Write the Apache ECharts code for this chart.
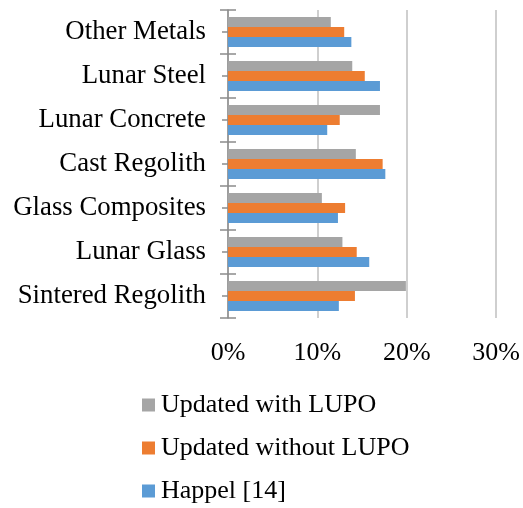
<!DOCTYPE html>
<html><head><meta charset="utf-8">
<script src="https://cdn.jsdelivr.net/npm/echarts@6/dist/echarts.min.js"></script>
<style>html,body{margin:0;padding:0;background:#fff}#c{width:523px;height:508px}</style>
</head><body><div id="c"></div>
<script>
const categories = ['Sintered Regolith','Lunar Glass','Glass Composites','Cast Regolith','Lunar Concrete','Lunar Steel','Other Metals'];
const happel = [12.4, 15.8, 12.3, 17.6, 11.1, 17.0, 13.8];
const withoutLupo = [14.2, 14.4, 13.1, 17.3, 12.5, 15.3, 13.0];
const withLupo = [19.9, 12.8, 10.5, 14.3, 17.0, 13.9, 11.5];
const xTicks = [0, 10, 20, 30];
const seriesNames = ['Updated with LUPO','Updated without LUPO','Happel [14]'];

const font = '"Liberation Serif", "Times New Roman", serif';
const chart = echarts.init(document.getElementById('c'));
const tickColor = '#8c8c8c';
function yAx(tick, showLine, showLabel){
  return {type:'category', data: categories, position:'left', gridIndex:0,
    axisLine:{show:showLine, lineStyle:{color:tickColor, width:1.5}},
    axisTick:tick, axisLabel:{show:showLabel, color:'#000', fontFamily:font, fontSize:26.8, margin:22},
    splitLine:{show:false}};
}
chart.setOption({
  animation:false,
  grid:{left:228, right:25, top:10, bottom:190},
  xAxis:{type:'value', min:xTicks[0], max:xTicks[xTicks.length-1], interval:10,
    axisLine:{show:false}, axisTick:{show:false},
    axisLabel:{color:'#000', fontFamily:font, fontSize:26, margin:22, formatter:v=>v+'%'},
    splitLine:{show:true, lineStyle:{color:'#bfbfbf', width:1.5}}},
  yAxis:[
    yAx({show:true, length:8, lineStyle:{color:tickColor, width:1.5}}, true, true),
    yAx({show:true, length:8, inside:true, lineStyle:{color:tickColor, width:1.5}}, false, false),
    yAx({show:true, alignWithLabel:true, length:6, lineStyle:{color:tickColor, width:1.5}}, false, false),
    yAx({show:true, alignWithLabel:true, inside:true, length:6, lineStyle:{color:tickColor, width:1.5}}, false, false)
  ],
  legend:{orient:'vertical', left:142, top:392, height:140, itemWidth:13, itemHeight:13, itemGap:17,
    icon:'rect', data:seriesNames, padding:0,
    textStyle:{fontFamily:font, fontSize:26, color:'#000', padding:[0,0,0,1]}},
  series:[
    {name:'Updated with LUPO', type:'bar', data:withLupo, itemStyle:{color:'#a5a5a5'}, barGap:'0%', barCategoryGap:'32%'},
    {name:'Updated without LUPO', type:'bar', data:withoutLupo, itemStyle:{color:'#ed7d31'}, barGap:'0%', barCategoryGap:'32%'},
    {name:'Happel [14]', type:'bar', data:happel, itemStyle:{color:'#5b9bd5'}, barGap:'0%', barCategoryGap:'32%'}
  ]
});
</script></body></html>
